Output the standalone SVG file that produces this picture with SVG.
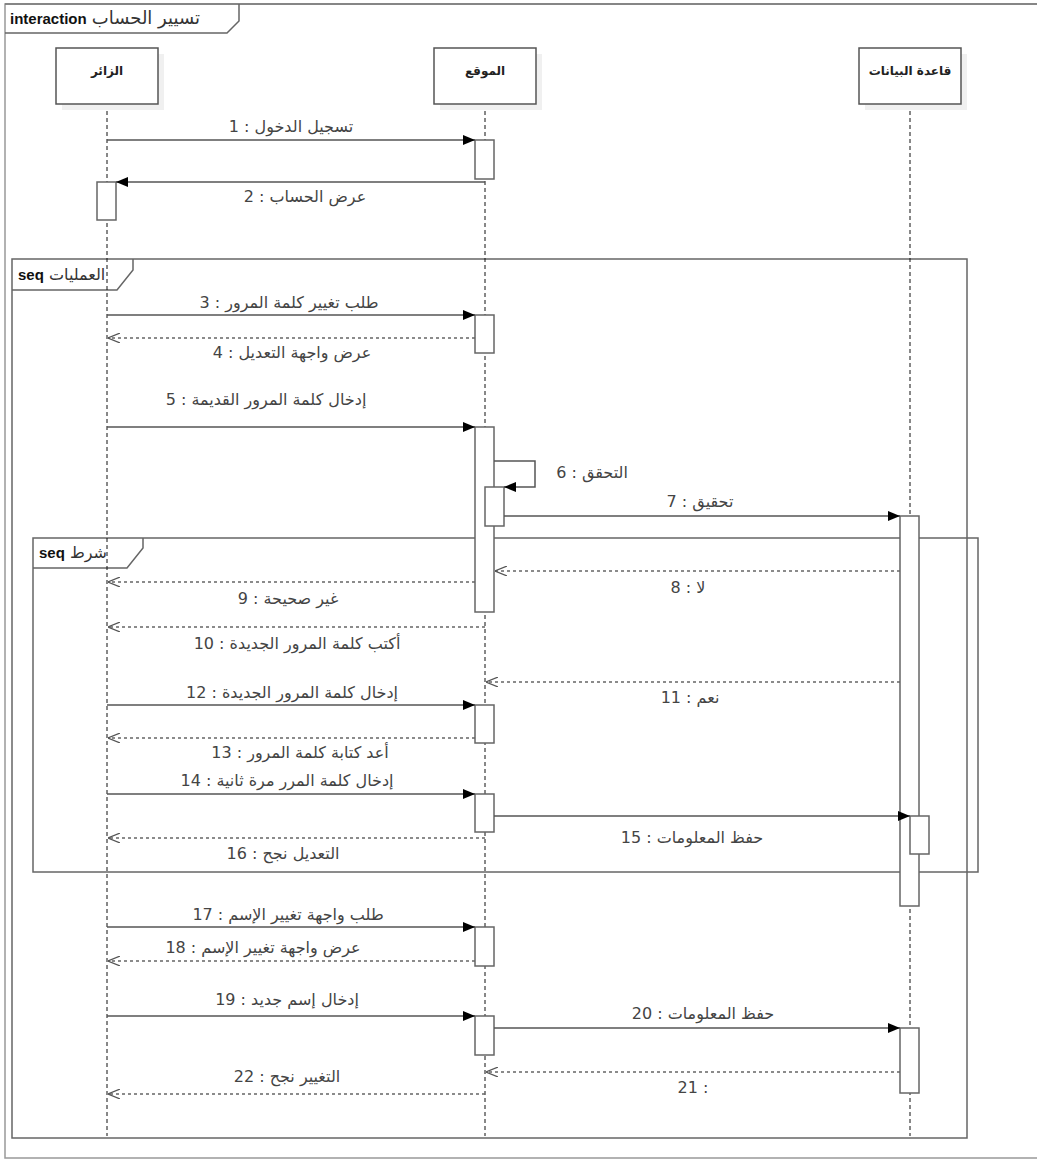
<svg xmlns="http://www.w3.org/2000/svg" width="1037" height="1160" viewBox="0 0 1037 1160">
<defs>
<style>
.frame{fill:none;stroke:#666;stroke-width:1.5}
.shadow{fill:#f0f0f0}
.box{fill:#fff;stroke:#555;stroke-width:1.5}
.life{stroke:#111;stroke-width:1;stroke-dasharray:4 3;fill:none}
.act{fill:#fff;stroke:#666;stroke-width:1.5}
.msg{stroke:#555;stroke-width:1.5;fill:none;marker-end:url(#filled)}
.ret{stroke:#666;stroke-width:1.5;stroke-dasharray:3 3;fill:none;marker-end:url(#open)}
.lbl{font-family:"DejaVu Sans",sans-serif;font-size:16px;fill:#444;text-anchor:middle}
.pname{font-family:"DejaVu Sans",sans-serif;font-size:12px;font-weight:bold;fill:#222;text-anchor:middle}
.tab{font-family:"DejaVu Sans",sans-serif;font-size:16px;fill:#333}
.kw{font-family:"Liberation Sans",Arial,sans-serif;font-weight:bold;font-size:15px;fill:#111}
</style>
<marker id="filled" viewBox="0 0 12 10" refX="12" refY="5" markerWidth="12" markerHeight="10" markerUnits="userSpaceOnUse" orient="auto">
<path d="M0,0 L12,5 L0,10 z" fill="#000"/>
</marker>
<marker id="open" viewBox="0 0 12 10" refX="12" refY="5" markerWidth="12" markerHeight="10" markerUnits="userSpaceOnUse" orient="auto">
<path d="M0,0 L12,5 L0,10" fill="none" stroke="#555" stroke-width="1.2"/>
</marker>
</defs>
<rect width="1037" height="1160" fill="#fff"/>

<g id="frame-interaction">
<rect class="frame" x="5" y="4" width="1040" height="1154" style="stroke:#999"/>
<line x1="5" y1="4" x2="1037" y2="4" stroke="#777" stroke-width="1.5"/>
<path class="frame" d="M5,33 H227 L239,21 V4"/>
<text class="tab" x="10" y="24"><tspan class="kw">interaction</tspan> <tspan font-size="18">تسيير الحساب</tspan></text>
</g>

<g id="frame-operations">
<rect class="frame" x="12" y="259" width="955" height="879"/>
<path class="frame" d="M12,290 H117 L133,270 V259"/>
<text class="tab" x="18" y="280"><tspan class="kw">seq</tspan> العمليات</text>
</g>

<g id="frame-condition">
<rect class="frame" x="33" y="538" width="945" height="334"/>
<path class="frame" d="M33,568 H127 L143,548 V538"/>
<text class="tab" x="39" y="558"><tspan class="kw">seq</tspan> شرط</text>
</g>

<g id="lifelines">
<line class="life" x1="107" y1="104" x2="107" y2="1136"/>
<line class="life" x1="485" y1="104" x2="485" y2="1136"/>
<line class="life" x1="910" y1="104" x2="910" y2="1136"/>
</g>

<g id="node-visitor">
<rect class="shadow" x="62" y="54" width="102" height="56"/>
<rect class="box" x="56" y="48" width="102" height="56"/>
<text class="pname" x="107" y="75">الزائر</text>
</g>
<g id="node-site">
<rect class="shadow" x="440" y="54" width="102" height="56"/>
<rect class="box" x="434" y="48" width="102" height="56"/>
<text class="pname" x="485" y="75">الموقع</text>
</g>
<g id="node-db">
<rect class="shadow" x="865" y="54" width="102" height="56"/>
<rect class="box" x="859" y="48" width="102" height="56"/>
<text class="pname" x="910" y="75">قاعدة البيانات</text>
</g>

<g id="activations">
<rect class="act" x="475" y="140" width="19" height="39"/>
<rect class="act" x="97" y="182" width="19" height="38"/>
<rect class="act" x="475" y="315" width="19" height="38"/>
<rect class="act" x="475" y="427" width="19" height="185"/>
<rect class="act" x="485" y="487" width="19" height="39"/>
<rect class="act" x="900" y="516" width="19" height="390"/>
<rect class="act" x="475" y="705" width="19" height="38"/>
<rect class="act" x="475" y="794" width="19" height="38"/>
<rect class="act" x="910" y="816" width="19" height="38"/>
<rect class="act" x="475" y="927" width="19" height="39"/>
<rect class="act" x="475" y="1016" width="19" height="39"/>
<rect class="act" x="900" y="1028" width="19" height="65"/>
</g>

<g id="connectors">
<line class="msg" x1="107" y1="140" x2="475" y2="140"/>
<line class="msg" x1="485" y1="182" x2="116" y2="182"/>
<line class="msg" x1="107" y1="315" x2="475" y2="315"/>
<line class="ret" x1="475" y1="338" x2="108" y2="338"/>
<line class="msg" x1="107" y1="427" x2="475" y2="427"/>
<path class="msg" d="M494,461 H535 V487 H504"/>
<line class="msg" x1="504" y1="516" x2="900" y2="516"/>
<line class="ret" x1="900" y1="571" x2="495" y2="571"/>
<line class="ret" x1="475" y1="582" x2="108" y2="582"/>
<line class="ret" x1="485" y1="627" x2="108" y2="627"/>
<line class="ret" x1="900" y1="682" x2="486" y2="682"/>
<line class="msg" x1="107" y1="705" x2="475" y2="705"/>
<line class="ret" x1="475" y1="738" x2="108" y2="738"/>
<line class="msg" x1="107" y1="794" x2="475" y2="794"/>
<line class="msg" x1="494" y1="816" x2="910" y2="816"/>
<line class="ret" x1="485" y1="838" x2="108" y2="838"/>
<line class="msg" x1="107" y1="927" x2="475" y2="927"/>
<line class="ret" x1="475" y1="961" x2="108" y2="961"/>
<line class="msg" x1="107" y1="1016" x2="475" y2="1016"/>
<line class="msg" x1="494" y1="1028" x2="900" y2="1028"/>
<line class="ret" x1="900" y1="1072" x2="486" y2="1072"/>
<line class="ret" x1="485" y1="1094" x2="108" y2="1094"/>
</g>

<g id="labels">
<text class="lbl" x="291" y="132" direction="rtl">تسجيل الدخول : 1</text>
<text class="lbl" x="305" y="202" direction="rtl">عرض الحساب : 2</text>
<text class="lbl" x="289" y="308" direction="rtl">طلب تغيير كلمة المرور : 3</text>
<text class="lbl" x="292" y="358" direction="rtl">عرض واجهة التعديل : 4</text>
<text class="lbl" x="266" y="405" direction="rtl">إدخال كلمة المرور القديمة : 5</text>
<text class="lbl" x="592" y="478" direction="rtl">التحقق : 6</text>
<text class="lbl" x="700" y="507" direction="rtl">تحقيق : 7</text>
<text class="lbl" x="688" y="593" direction="rtl">لا : 8</text>
<text class="lbl" x="288" y="604" direction="rtl">غير صحيحة : 9</text>
<text class="lbl" x="297" y="649" direction="rtl">أكتب كلمة المرور الجديدة : 10</text>
<text class="lbl" x="690" y="703" direction="rtl">نعم : 11</text>
<text class="lbl" x="292" y="698" direction="rtl">إدخال كلمة المرور الجديدة : 12</text>
<text class="lbl" x="300" y="758" direction="rtl">أعد كتابة كلمة المرور : 13</text>
<text class="lbl" x="287" y="786" direction="rtl">إدخال كلمة المرر مرة ثانية : 14</text>
<text class="lbl" x="692" y="843" direction="rtl">حفظ المعلومات : 15</text>
<text class="lbl" x="283" y="859" direction="rtl">التعديل نجح : 16</text>
<text class="lbl" x="288" y="920" direction="rtl">طلب واجهة تغيير الإسم : 17</text>
<text class="lbl" x="263" y="953" direction="rtl">عرض واجهة تغيير الإسم : 18</text>
<text class="lbl" x="287" y="1005" direction="rtl">إدخال إسم جديد : 19</text>
<text class="lbl" x="703" y="1019" direction="rtl">حفظ المعلومات : 20</text>
<text class="lbl" x="693" y="1093">21 :</text>
<text class="lbl" x="287" y="1082" direction="rtl">التغيير نجح : 22</text>
</g>
</svg>
